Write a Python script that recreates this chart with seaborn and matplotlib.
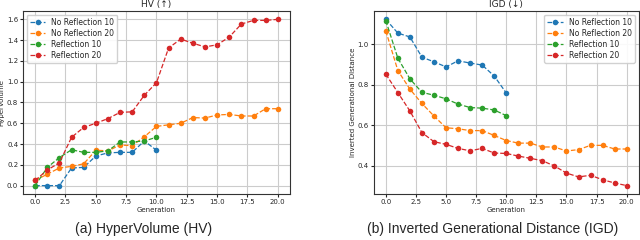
import numpy as np
import pandas as pd
import matplotlib
matplotlib.use("Agg")
import matplotlib.pyplot as plt
import seaborn as sns

# --- data ---
gen10 = list(range(11))
gen20 = list(range(21))
series_names = ["No Reflection 10", "No Reflection 20", "Reflection 10", "Reflection 20"]

hv_noref10 = [0.0, 0.0, 0.0, 0.17, 0.175, 0.285, 0.315, 0.32, 0.32, 0.43, 0.34]
hv_noref20 = [0.05, 0.11, 0.17, 0.185, 0.21, 0.34, 0.335, 0.39, 0.385, 0.47, 0.57,
              0.585, 0.60, 0.655, 0.65, 0.68, 0.685, 0.67, 0.67, 0.74, 0.74]
hv_ref10 = [0.0, 0.175, 0.27, 0.345, 0.32, 0.32, 0.335, 0.42, 0.42, 0.43, 0.465]
hv_ref20 = [0.05, 0.15, 0.22, 0.465, 0.56, 0.60, 0.645, 0.705, 0.71, 0.87, 0.99,
            1.325, 1.41, 1.37, 1.335, 1.355, 1.43, 1.555, 1.59, 1.59, 1.60]

igd_noref10 = [1.124, 1.056, 1.037, 0.937, 0.914, 0.889, 0.919, 0.908, 0.898, 0.844, 0.76]
igd_noref20 = [1.067, 0.871, 0.779, 0.708, 0.646, 0.588, 0.583, 0.574, 0.574, 0.55, 0.525,
               0.512, 0.512, 0.493, 0.493, 0.473, 0.48, 0.501, 0.501, 0.483, 0.483]
igd_ref10 = [1.118, 0.932, 0.83, 0.763, 0.749, 0.731, 0.705, 0.688, 0.685, 0.676, 0.648]
igd_ref20 = [0.853, 0.762, 0.671, 0.564, 0.519, 0.506, 0.486, 0.474, 0.486, 0.463, 0.461,
             0.448, 0.437, 0.425, 0.399, 0.364, 0.345, 0.353, 0.331, 0.315, 0.302]

sns.set_style("ticks")
plt.rcParams["font.family"] = ["DejaVu Sans"]
colors = sns.color_palette("tab10", 4)

fig = plt.figure(figsize=(6.4, 2.4), dpi=100)
ax1 = fig.add_axes([0.036, 0.192, 0.417, 0.762])
ax2 = fig.add_axes([0.584, 0.192, 0.414, 0.762])


def draw(ax, ys, title, ylabel, loc):
    xs = [gen10, gen20, gen10, gen20]
    for name, x, y, c in zip(series_names, xs, ys, colors):
        sns.lineplot(x=x, y=y, ax=ax, label=name, color=c, marker="o",
                     linestyle="--", linewidth=0.9, markersize=4,
                     markeredgewidth=0)
    ax.grid(True, color="#cccccc", linewidth=0.8)
    ax.set_title(title, fontsize=6.5, pad=3)
    ax.set_xlabel("Generation", fontsize=5, labelpad=1.5)
    ax.set_ylabel(ylabel, fontsize=5, labelpad=1.5)
    ax.set_xticks(np.arange(0, 20.1, 2.5))
    ax.tick_params(labelsize=5, length=2, pad=1.5)
    for s in ax.spines.values():
        s.set_linewidth(0.8)
        s.set_color("#333333")
    ax.legend(loc=loc, fontsize=5.5, frameon=True, handlelength=2.0,
              borderpad=0.4, labelspacing=0.25, framealpha=0.9)


draw(ax1, [hv_noref10, hv_noref20, hv_ref10, hv_ref20], "HV (\u2191)", "HyperVolume", "upper left")
draw(ax2, [igd_noref10, igd_noref20, igd_ref10, igd_ref20], "IGD (\u2193)",
     "Inverted Generational Distance", "upper right")
ax2.set_yticks([0.4, 0.6, 0.8, 1.0])

fig.text(0.224, 0.028, "(a) HyperVolume (HV)", ha="center", va="baseline",
         fontsize=10, family=["Liberation Sans", "DejaVu Sans"])
fig.text(0.769, 0.028, "(b) Inverted Generational Distance (IGD)", ha="center",
         va="baseline", fontsize=10, family=["Liberation Sans", "DejaVu Sans"])

fig.savefig("out.png", dpi=100)
